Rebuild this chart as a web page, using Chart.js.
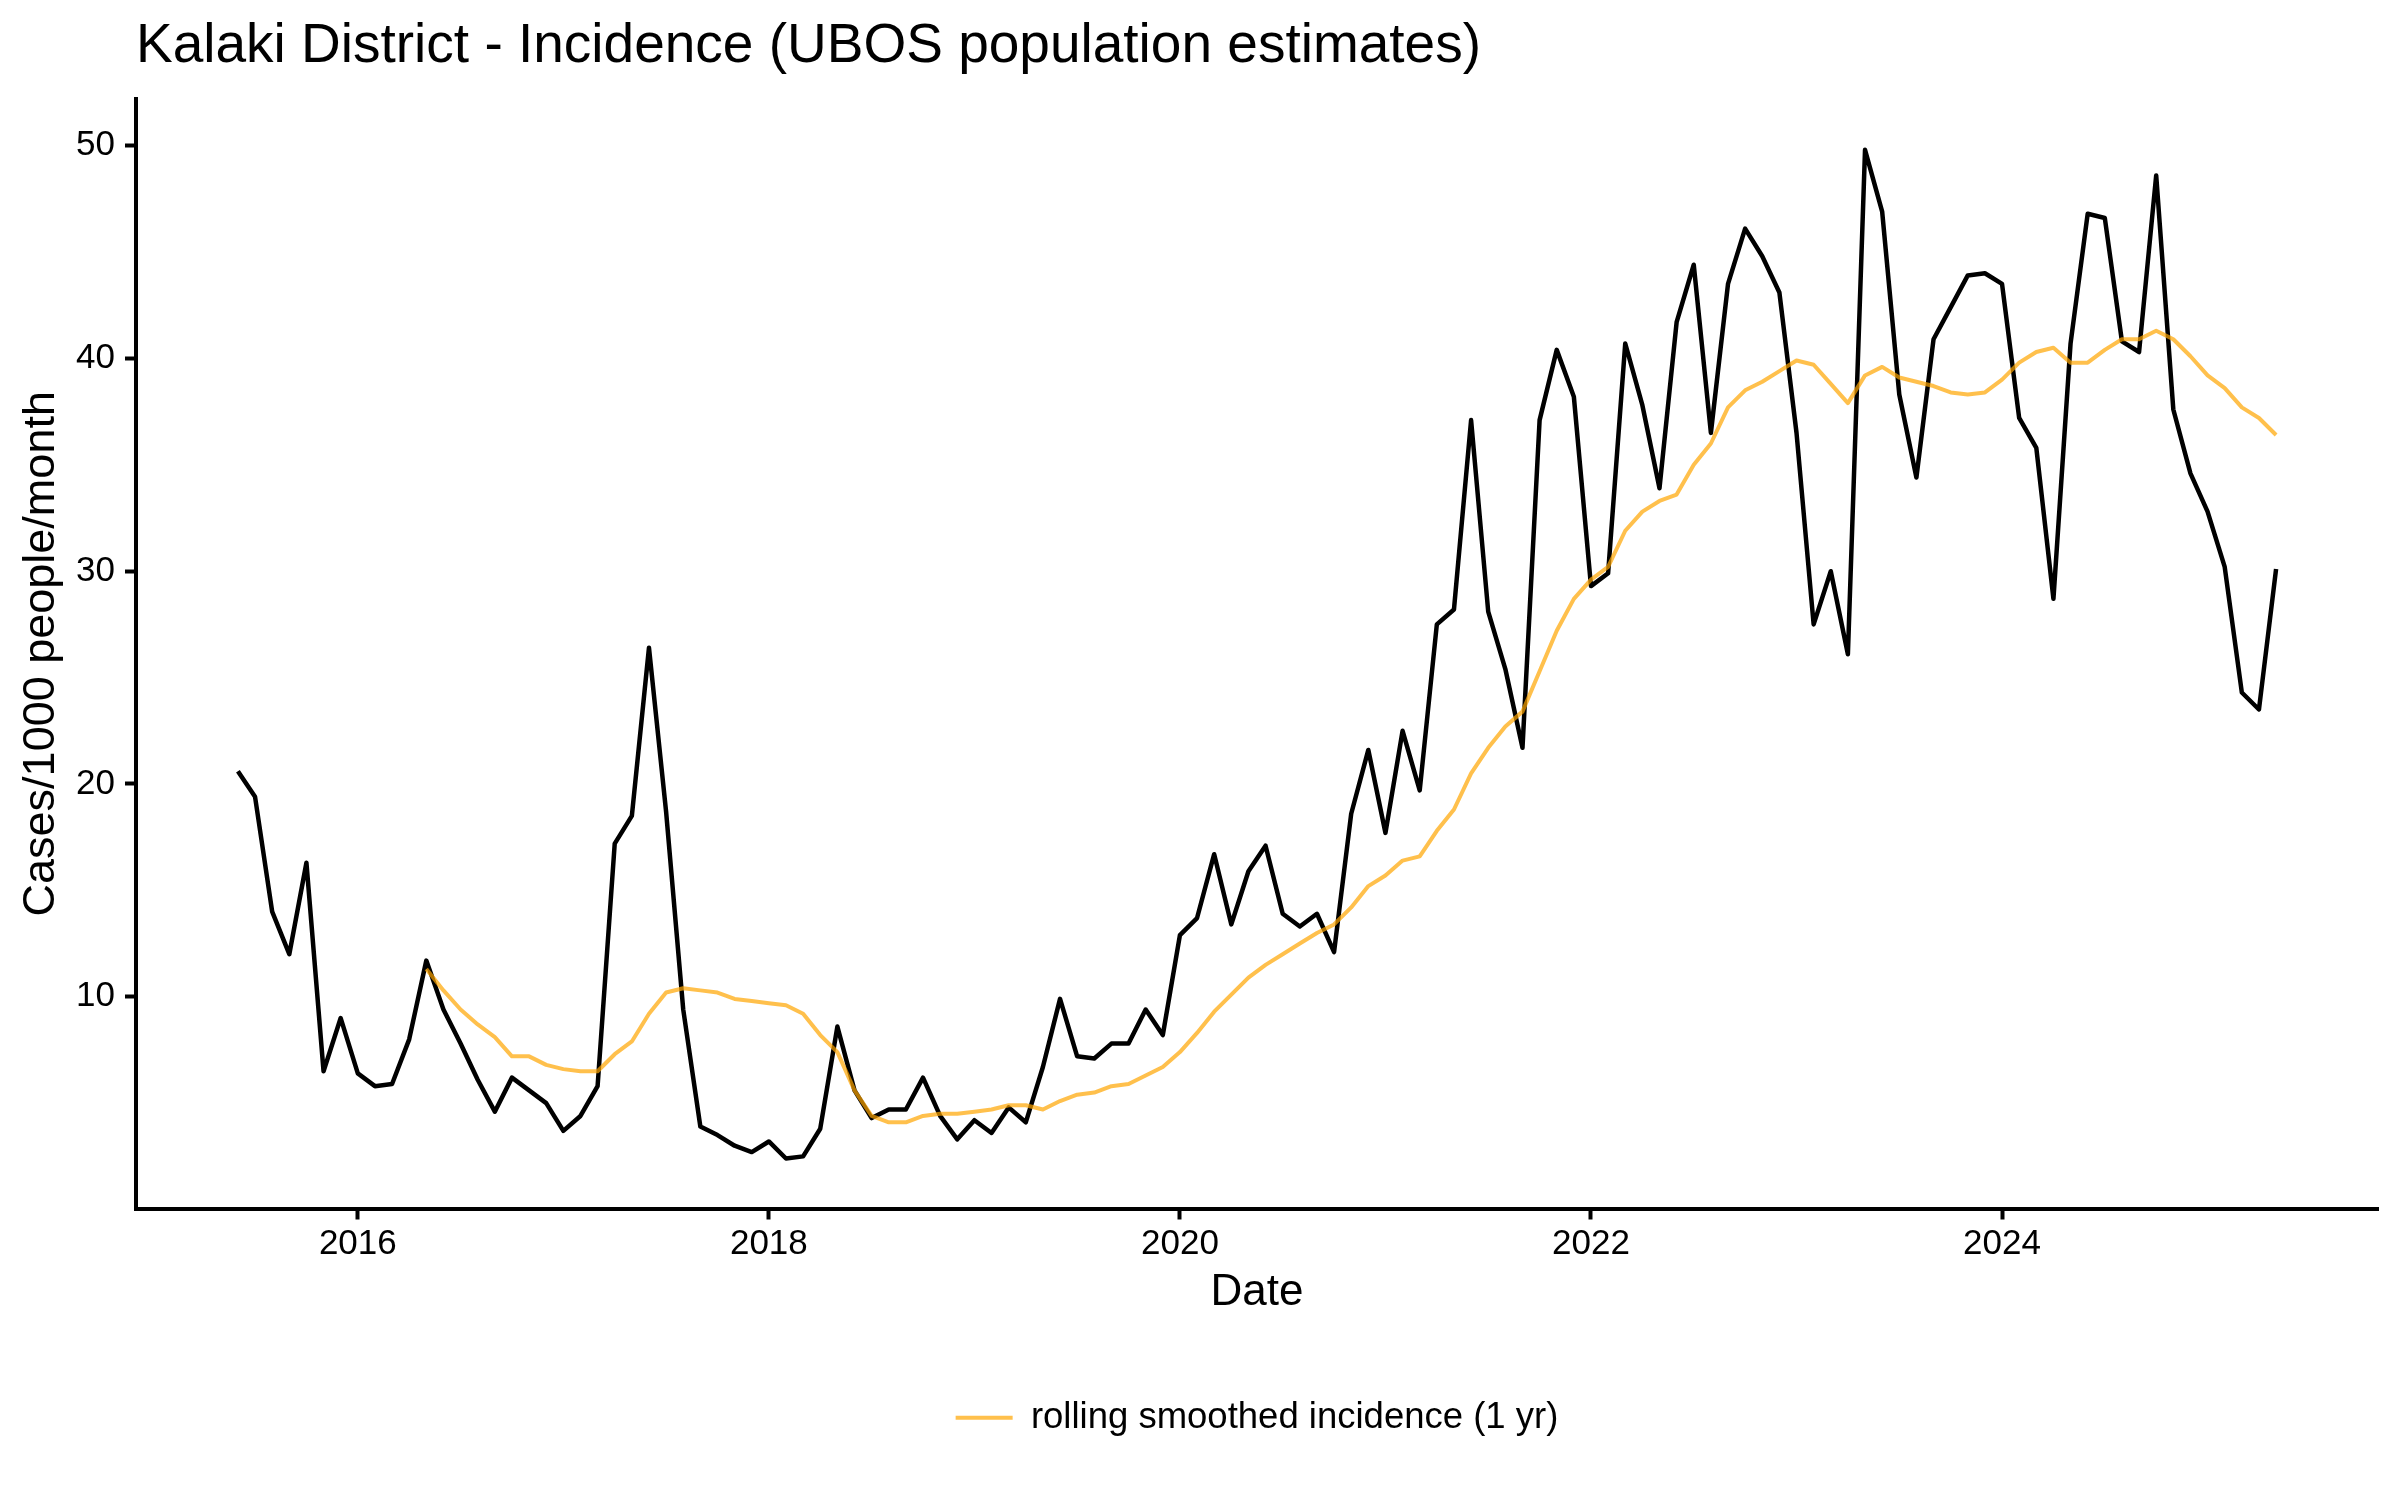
<!DOCTYPE html>
<html>
<head>
<meta charset="utf-8">
<title>Kalaki District - Incidence</title>
<script src="https://cdn.jsdelivr.net/npm/chart.js@4.4.1/dist/chart.umd.min.js"></script>
<style>
  html, body { margin: 0; padding: 0; background: #fff; }
  canvas { display: block; }
</style>
</head>
<body>
<canvas id="incidenceChart" width="2400" height="1500"></canvas>
<script>
  // monthly incidence, cases/1000 people/month, Jun 2015 .. May 2025
  const incidence = [
    20.6, 19.4, 14.0, 12.0, 16.3, 6.5, 9.0,                          // 2015 (Jun-Dec)
    6.4, 5.8, 5.9, 8.0, 11.7, 9.4, 7.8, 6.1, 4.6, 6.2, 5.6, 5.0,      // 2016
    3.7, 4.4, 5.8, 17.2, 18.5, 26.4, 18.7, 9.4, 3.9, 3.5, 3.0, 2.7,   // 2017
    3.2, 2.4, 2.5, 3.8, 8.6, 5.6, 4.3, 4.7, 4.7, 6.2, 4.4, 3.3,       // 2018
    4.2, 3.6, 4.8, 4.1, 6.7, 9.9, 7.2, 7.1, 7.8, 7.8, 9.4, 8.2,       // 2019
    12.9, 13.7, 16.7, 13.4, 15.9, 17.1, 13.9, 13.3, 13.9, 12.1, 18.6, 21.6, // 2020
    17.7, 22.5, 19.7, 27.5, 28.2, 37.1, 28.1, 25.4, 21.7, 37.1, 40.4, 38.2, // 2021
    29.3, 29.9, 40.7, 37.8, 33.9, 41.7, 44.4, 36.5, 43.5, 46.1, 44.8, 43.1, // 2022
    36.5, 27.5, 30.0, 26.1, 49.8, 46.9, 38.3, 34.4, 40.9, 42.4, 43.9, 44.0, // 2023
    43.5, 37.2, 35.8, 28.7, 40.7, 46.8, 46.6, 40.8, 40.3, 48.6, 37.6, 34.6, // 2024
    32.8, 30.2, 24.3, 23.5, 30.1                                      // 2025 (Jan-May)
  ];

  // rolling smoothed incidence (1 yr), starts May 2016
  const rolling = [
    null, null, null, null, null, null, null,                         // 2015
    null, null, null, null, 11.3, 10.3, 9.4, 8.7, 8.1, 7.2, 7.2, 6.8, // 2016
    6.6, 6.5, 6.5, 7.3, 7.9, 9.2, 10.2, 10.4, 10.3, 10.2, 9.9, 9.8,   // 2017
    9.7, 9.6, 9.2, 8.2, 7.4, 5.6, 4.4, 4.1, 4.1, 4.4, 4.5, 4.5,       // 2018
    4.6, 4.7, 4.9, 4.9, 4.7, 5.1, 5.4, 5.5, 5.8, 5.9, 6.3, 6.7,       // 2019
    7.4, 8.3, 9.3, 10.1, 10.9, 11.5, 12.0, 12.5, 13.0, 13.4, 14.2, 15.2, // 2020
    15.7, 16.4, 16.6, 17.8, 18.8, 20.5, 21.7, 22.7, 23.4, 25.3, 27.2, 28.7, // 2021
    29.6, 30.2, 31.9, 32.8, 33.3, 33.6, 35.0, 36.0, 37.7, 38.5, 38.9, 39.4, // 2022
    39.9, 39.7, 38.8, 37.9, 39.2, 39.6, 39.1, 38.9, 38.7, 38.4, 38.3, 38.4, // 2023
    39.0, 39.8, 40.3, 40.5, 39.8, 39.8, 40.4, 40.9, 40.9, 41.3, 40.9, 40.1, // 2024
    39.2, 38.6, 37.7, 37.2, 36.4                                      // 2025
  ];

  const xTicks = [2016, 2018, 2020, 2022, 2024];
  const yTicks = [10, 20, 30, 40, 50];

  // month labels "YYYY-MM" for each observation
  const startYear = 2015, startMonth = 6;
  const months = [];
  for (let i = 0; i < incidence.length; i++) {
    const m = startMonth - 1 + i;
    months.push(startYear + Math.floor(m / 12) + "-" + String((m % 12) + 1).padStart(2, "0"));
  }

  function monthToYear(label) {
    const parts = label.split("-").map(Number);
    return parts[0] + (parts[1] - 1) / 12;
  }

  function toPoints(values) {
    return values.map(function (v, i) {
      return { x: monthToYear(months[i]), y: v };
    });
  }

  Chart.defaults.font.family = "'Liberation Sans', Arial, Helvetica, sans-serif";
  Chart.defaults.color = "#000";

  const ctx = document.getElementById("incidenceChart").getContext("2d");
  new Chart(ctx, {
    type: "line",
    data: {
      datasets: [
        {
          label: "rolling smoothed incidence (1 yr)",
          data: toPoints(rolling),
          borderColor: "rgba(255, 165, 0, 0.7)",
          backgroundColor: "rgba(255, 165, 0, 0.7)",
          borderWidth: 4,
          borderJoinStyle: "round",
          pointRadius: 0,
          tension: 0,
          spanGaps: false,
          order: 0,
        },
        {
          label: "incidence",
          data: toPoints(incidence),
          borderColor: "#000",
          backgroundColor: "#000",
          borderWidth: 4.5,
          borderJoinStyle: "round",
          pointRadius: 0,
          tension: 0,
          order: 1,
        },
      ],
    },
    options: {
      responsive: false,
      devicePixelRatio: 1,
      animation: false,
      layout: {
        padding: { left: 0, right: 22, top: 0, bottom: 54 },
      },
      plugins: {
        title: {
          display: true,
          text: "Kalaki District - Incidence (UBOS population estimates)",
          align: "start",
          fullSize: false,
          color: "#000",
          font: { size: 55, weight: "normal" },
          padding: { top: 14, bottom: 19 },
        },
        legend: {
          display: true,
          position: "bottom",
          fullSize: false,
          labels: {
            usePointStyle: true,
            pointStyle: "line",
            pointStyleWidth: 57,
            padding: 10,
            color: "#000",
            font: { size: 36.5 },
            filter: function (item) {
              return item.datasetIndex === 0;
            },
          },
        },
        tooltip: { enabled: false },
      },
      scales: {
        x: {
          type: "linear",
          min: 2014.9208,
          max: 2025.8292,
          afterBuildTicks: function (scale) {
            scale.ticks = xTicks.map(function (v) { return { value: v }; });
          },
          afterFit: function (scale) {
            scale.height = 181;
          },
          ticks: {
            font: { size: 35 },
            color: "#000",
            padding: 4,
            maxRotation: 0,
            callback: function (value) { return String(value); },
          },
          grid: {
            display: true,
            drawOnChartArea: false,
            drawTicks: true,
            tickLength: 11,
            tickWidth: 4,
            tickColor: "#000",
          },
          border: { display: true, color: "#000", width: 4 },
          title: {
            display: true,
            text: "Date",
            color: "#000",
            font: { size: 44 },
            padding: { top: 0, bottom: 70 },
          },
        },
        y: {
          type: "linear",
          min: 0.05,
          max: 52.19,
          afterBuildTicks: function (scale) {
            scale.ticks = yTicks.map(function (v) { return { value: v }; });
          },
          afterFit: function (scale) {
            scale.width = 136;
          },
          ticks: {
            font: { size: 35 },
            color: "#000",
            padding: 10,
            callback: function (value) { return String(value); },
          },
          grid: {
            display: true,
            drawOnChartArea: false,
            drawTicks: true,
            tickLength: 11,
            tickWidth: 4,
            tickColor: "#000",
          },
          border: { display: true, color: "#000", width: 4 },
          title: {
            display: true,
            text: "Cases/1000 people/month",
            color: "#000",
            font: { size: 45 },
            padding: { top: 15, bottom: 0 },
          },
        },
      },
    },
  });
</script>
</body>
</html>
